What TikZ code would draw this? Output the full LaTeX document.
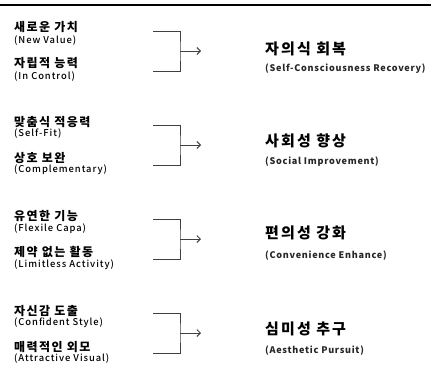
\documentclass[tikz,border=0pt]{standalone}
\usepackage{fontspec}
\setmainfont{Noto Sans CJK KR}
\newfontfamily\itemfont[LetterSpace=12]{Noto Sans CJK KR}
\newfontfamily\subfont[LetterSpace=10]{Noto Sans CJK KR Medium}
\newfontfamily\goalfont[LetterSpace=14]{Noto Sans CJK KR}
\newfontfamily\goalsubfont[LetterSpace=8]{Noto Sans CJK KR}
\usetikzlibrary{positioning,arrows.meta}

\tikzset{
  item/.style={anchor=west, inner sep=0pt, font=\itemfont\bfseries\fontsize{12}{14}\selectfont},
  itemsub/.style={anchor=west, inner sep=0pt, font=\subfont\fontsize{9.4}{11}\selectfont},
  goal/.style={anchor=west, inner sep=0pt, font=\goalfont\bfseries\fontsize{15}{17}\selectfont},
  goalsub/.style={anchor=west, inner sep=0pt, font=\goalsubfont\bfseries\fontsize{9.1}{11}\selectfont, text=black!85},
  bracket/.style={draw=black!75, line width=0.9pt},
  lead/.style={draw=black!75, line width=0.9pt, -{Straight Barb[length=3.5pt,width=7pt]}}
}

\begin{document}
\begin{tikzpicture}[x=1pt,y=-1pt]
\useasboundingbox (0,0) rectangle (431,372);
\draw[line width=2pt] (0,5) -- (431,5);

% group 1
\node[item] (k1a) at (14,27) {새로운 가치};
\node[itemsub] (e1a) at (14,41) {(New Value)};
\node[item] (k1b) at (14,63) {자립적 능력};
\node[itemsub] (e1b) at (14,77) {(In Control)};
\coordinate (t1) at (153,31);
\coordinate (b1) at (153,71);
\coordinate (m1) at (180,51);
\coordinate (a1) at (201,51);
\draw[bracket] (t1) -| (m1) |- (b1);
\draw[lead] (m1) -- (a1);
\node[goal] (g1) at (265,49) {자의식 회복};
\node[goalsub] (s1) at (265,69) {(Self-Consciousness Recovery)};

% group 2
\node[item] (k2a) at (14,122) {맞춤식 적응력};
\node[itemsub] (e2a) at (14,134) {(Self-Fit)};
\node[item] (k2b) at (14,158) {상호 보완};
\node[itemsub] (e2b) at (14,170) {(Complementary)};
\coordinate (t2) at (153,125);
\coordinate (b2) at (153,165);
\coordinate (m2) at (180,145);
\coordinate (a2) at (201,145);
\draw[bracket] (t2) -| (m2) |- (b2);
\draw[lead] (m2) -- (a2);
\node[goal] (g2) at (265,141) {사회성 향상};
\node[goalsub] (s2) at (265,162) {(Social Improvement)};

% group 3
\node[item] (k3a) at (14,216) {유연한 기능};
\node[itemsub] (e3a) at (14,229) {(Flexile Capa)};
\node[item] (k3b) at (14,252) {제약 없는 활동};
\node[itemsub] (e3b) at (14,265) {(Limitless Activity)};
\coordinate (t3) at (153,219);
\coordinate (b3) at (153,259);
\coordinate (m3) at (180,239);
\coordinate (a3) at (201,239);
\draw[bracket] (t3) -| (m3) |- (b3);
\draw[lead] (m3) -- (a3);
\node[goal] (g3) at (265,233) {편의성 강화};
\node[goalsub] (s3) at (265,256) {(Convenience Enhance)};

% group 4
\node[item] (k4a) at (14,311) {자신감 도출};
\node[itemsub] (e4a) at (14,323) {(Confident Style)};
\node[item] (k4b) at (14,347) {매력적인 외모};
\node[itemsub] (e4b) at (14,359) {(Attractive Visual)};
\coordinate (t4) at (153,313);
\coordinate (b4) at (153,353);
\coordinate (m4) at (180,333);
\coordinate (a4) at (201,333);
\draw[bracket] (t4) -| (m4) |- (b4);
\draw[lead] (m4) -- (a4);
\node[goal] (g4) at (265,329) {심미성 추구};
\node[goalsub] (s4) at (265,351) {(Aesthetic Pursuit)};
\end{tikzpicture}
\end{document}
